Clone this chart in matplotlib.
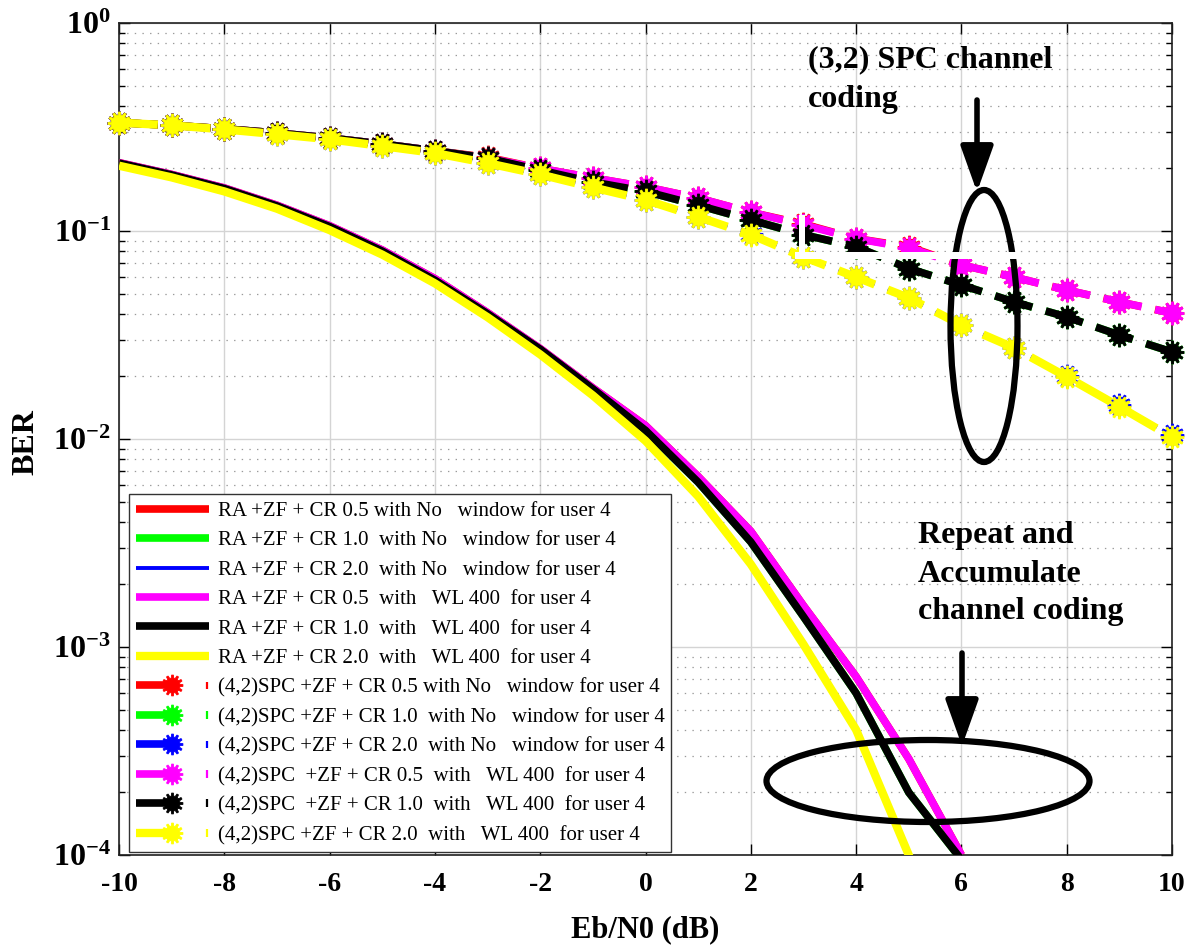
import numpy as np
import matplotlib
matplotlib.use("Agg")
import matplotlib.pyplot as plt
from matplotlib.path import Path
from matplotlib.lines import Line2D
from matplotlib.patches import Ellipse, FancyArrowPatch, Rectangle
from matplotlib.legend_handler import HandlerBase

plt.rcParams["font.family"] = "Liberation Serif"
plt.rcParams["mathtext.fontset"] = "custom"
plt.rcParams["mathtext.rm"] = "Liberation Serif:bold"
plt.rcParams["mathtext.it"] = "Liberation Serif:bold"
plt.rcParams["mathtext.bf"] = "Liberation Serif:bold"
plt.rcParams["axes.unicode_minus"] = False
plt.rcParams["lines.scale_dashes"] = False

# ---------------- data ----------------
# Repeat-Accumulate coded curves (solid)
ra_snr = [-10, -9, -8, -7, -6, -5, -4, -3, -2, -1, 0, 1, 2, 3, 4, 5, 6]
ra_cr05_nowin = [0.213, 0.187, 0.161, 0.133, 0.106, 0.081, 0.059, 0.0405, 0.0272, 0.0176, 0.0116,
                 0.0066, 0.0036, 0.00158, 0.00072, 0.00029, 0.000100]
ra_cr10_nowin = [0.212, 0.186, 0.160, 0.132, 0.105, 0.080, 0.058, 0.0400, 0.0270, 0.0174, 0.0110,
                 0.0062, 0.0032, 0.00140, 0.00060, 0.00020, 0.000095]
ra_cr20_nowin = [0.206, 0.181, 0.155, 0.128, 0.101, 0.077, 0.056, 0.0385, 0.0255, 0.0162, 0.0098,
                 0.0053, 0.0025, 0.00103, 0.00040, 0.00010, 0.000022]
ra_cr05_wl400 = [0.213, 0.187, 0.161, 0.133, 0.106, 0.081, 0.059, 0.0405, 0.0272, 0.0176, 0.0116,
                 0.0066, 0.0036, 0.00158, 0.00072, 0.00029, 0.000100]
ra_cr10_wl400 = [0.212, 0.186, 0.160, 0.132, 0.105, 0.080, 0.058, 0.0400, 0.0270, 0.0174, 0.0110,
                 0.0062, 0.0032, 0.00140, 0.00060, 0.00020, 0.000095]
ra_cr20_wl400 = [0.206, 0.181, 0.155, 0.128, 0.101, 0.077, 0.056, 0.0385, 0.0255, 0.0162, 0.0098,
                 0.0053, 0.0025, 0.00103, 0.00040, 0.00010, 0.000022]

# (4,2) SPC coded curves (dashed with markers)
spc_snr = [-10, -9, -8, -7, -6, -5, -4, -3, -2, -1, 0, 1, 2, 3, 4, 5, 6, 7, 8, 9, 10]
spc_cr05_nowin = [0.332, 0.322, 0.310, 0.296, 0.280, 0.262, 0.243, 0.226, 0.200, 0.180, 0.163,
                  0.144, 0.123, 0.108, 0.092, 0.084, 0.0687, 0.060, 0.052, 0.0456, 0.0403]
spc_cr10_nowin = [0.332, 0.322, 0.310, 0.296, 0.280, 0.262, 0.243, 0.224, 0.196, 0.172, 0.155,
                  0.133, 0.113, 0.096, 0.084, 0.066, 0.055, 0.0456, 0.0386, 0.0316, 0.0262]
spc_cr20_nowin = [0.332, 0.322, 0.308, 0.292, 0.276, 0.256, 0.237, 0.212, 0.187, 0.163, 0.141,
                  0.117, 0.097, 0.075, 0.060, 0.0477, 0.0353, 0.0274, 0.0201, 0.0145, 0.0104]
spc_cr05_wl400 = [0.332, 0.322, 0.310, 0.296, 0.280, 0.262, 0.243, 0.224, 0.200, 0.180, 0.163,
                  0.144, 0.123, 0.107, 0.092, 0.083, 0.0687, 0.060, 0.052, 0.0456, 0.0403]
spc_cr10_wl400 = [0.332, 0.322, 0.310, 0.296, 0.280, 0.262, 0.243, 0.224, 0.196, 0.172, 0.155,
                  0.133, 0.113, 0.096, 0.084, 0.066, 0.055, 0.0456, 0.0386, 0.0316, 0.0262]
spc_cr20_wl400 = [0.332, 0.322, 0.308, 0.292, 0.276, 0.256, 0.237, 0.212, 0.187, 0.162, 0.141,
                  0.117, 0.096, 0.075, 0.060, 0.0477, 0.0353, 0.0274, 0.0199, 0.0143, 0.0102]

ra_labels = [
    "RA +ZF + CR 0.5 with No   window for user 4",
    "RA +ZF + CR 1.0  with No   window for user 4",
    "RA +ZF + CR 2.0  with No   window for user 4",
    "RA +ZF + CR 0.5  with   WL 400  for user 4",
    "RA +ZF + CR 1.0  with   WL 400  for user 4",
    "RA +ZF + CR 2.0  with   WL 400  for user 4",
]
spc_labels = [
    "(4,2)SPC +ZF + CR 0.5 with No   window for user 4",
    "(4,2)SPC +ZF + CR 1.0  with No   window for user 4",
    "(4,2)SPC +ZF + CR 2.0  with No   window for user 4",
    "(4,2)SPC  +ZF + CR 0.5  with   WL 400  for user 4",
    "(4,2)SPC  +ZF + CR 1.0  with   WL 400  for user 4",
    "(4,2)SPC +ZF + CR 2.0  with   WL 400  for user 4",
]
series_colors = ["#ff0000", "#00ff00", "#0000ff", "#ff00ff", "#000000", "#ffff00"]
x_ticks = [-10, -8, -6, -4, -2, 0, 2, 4, 6, 8, 10]
y_ticks = [1e-4, 1e-3, 1e-2, 1e-1, 1e0]
y_tick_labels = [r"$10^{-4}$", r"$10^{-3}$", r"$10^{-2}$", r"$10^{-1}$", r"$10^{0}$"]


# ---------------- gear-shaped marker ----------------
def gear_marker(teeth=12, r_out=1.0, r_in=0.72):
    step = 2 * np.pi / teeth
    verts = []
    for i in range(teeth):
        a = i * step
        for frac, r in ((-0.30, r_in), (-0.16, r_out), (0.16, r_out), (0.30, r_in)):
            ang = a + frac * step
            verts.append((r * np.cos(ang), r * np.sin(ang)))
    verts.append(verts[0])
    codes = [Path.MOVETO] + [Path.LINETO] * (len(verts) - 2) + [Path.CLOSEPOLY]
    return Path(verts, codes)


GEAR = gear_marker()

# ---------------- figure ----------------
W, H = 1195, 949
fig = plt.figure(figsize=(W / 100, H / 100), dpi=100)
ax = fig.add_axes([119 / W, 1 - 855 / H, 1053 / W, 832 / H])

ra_series = [ra_cr05_nowin, ra_cr10_nowin, ra_cr20_nowin,
             ra_cr05_wl400, ra_cr10_wl400, ra_cr20_wl400]
ra_widths = [5.5, 5.5, 2.8, 5.5, 5.5, 6.0]
ra_lines = []
for vals, c, lw, lab in zip(ra_series, series_colors, ra_widths, ra_labels):
    ln, = ax.semilogy(ra_snr, vals, color=c, lw=lw, label=lab,
                      solid_capstyle="butt", solid_joinstyle="round", zorder=3)
    ra_lines.append(ln)

spc_series = [spc_cr05_nowin, spc_cr10_nowin, spc_cr20_nowin,
              spc_cr05_wl400, spc_cr10_wl400, spc_cr20_wl400]
spc_widths = [5.5, 5.5, 2.8, 5.5, 5.5, 6.0]
spc_lines = []
for vals, c, lw, lab in zip(spc_series, series_colors, spc_widths, spc_labels):
    ln, = ax.semilogy(spc_snr, vals, color=c, lw=lw, label=lab,
                      linestyle=(0, (28, 10)), dash_capstyle="butt",
                      marker=GEAR, markersize=16.5, markerfacecolor=c,
                      markeredgecolor=c, markeredgewidth=0.6, zorder=4,
                      clip_on=False)
    spc_lines.append(ln)

ax.set_xlim(-10, 10)
ax.set_ylim(1e-4, 1)
ax.set_xticks(x_ticks)
ax.set_xticklabels([str(t) for t in x_ticks])
ax.set_yticks(y_ticks)
ax.set_yticklabels(y_tick_labels)
ax.yaxis.set_minor_locator(matplotlib.ticker.LogLocator(base=10, subs=np.arange(2, 10)))
ax.yaxis.set_minor_formatter(matplotlib.ticker.NullFormatter())

for lab in ax.get_xticklabels():
    lab.set_fontweight("bold")
    lab.set_fontsize(20)
for lab in ax.get_yticklabels():
    lab.set_fontsize(23)

ax.tick_params(which="both", direction="in", top=True, right=True, width=1.0)
ax.tick_params(which="major", length=8)
ax.tick_params(which="minor", length=4)
ax.tick_params(axis="x", pad=12)
ax.tick_params(axis="y", pad=6)

ax.grid(True, which="major", color="#d4d4d4", lw=1.0, ls="-")
ax.grid(True, which="minor", axis="y", color="#9a9a9a", lw=0.9, ls=(0, (1, 4.5)))
ax.set_axisbelow(True)
for sp in ax.spines.values():
    sp.set_linewidth(1.2)
    sp.set_color("#202020")

ax.set_xlabel("Eb/N0 (dB)", fontsize=22, fontweight="bold")
ax.set_ylabel("BER", fontsize=23, fontweight="bold")
ax.xaxis.set_label_coords((645 - 119) / 1053, (855 - 930) / 832)
ax.xaxis.label.set_verticalalignment("center")
ax.yaxis.set_label_coords((26 - 119) / 1053, (855 - 442) / 832)
ax.yaxis.label.set_verticalalignment("center")


# ---------------- legend ----------------
class SpcHandler(HandlerBase):
    def create_artists(self, legend, orig, xdescent, ydescent, width, height,
                       fontsize, trans):
        y = (height - ydescent) / 2.0
        x0 = -xdescent
        c = orig.get_color()
        seg = Line2D([x0, x0 + 0.47 * width], [y, y], color=c,
                     lw=orig.get_linewidth() if orig.get_linewidth() > 3 else 5.5,
                     solid_capstyle="butt")
        mk = Line2D([x0 + 0.49 * width], [y], linestyle="none", marker=GEAR,
                    markersize=15, markerfacecolor=c, markeredgecolor=c,
                    markeredgewidth=0.6)
        tick = Line2D([x0 + 0.975 * width] * 2, [y - 2.8, y + 2.8], color=c,
                      lw=1.6, solid_capstyle="butt")
        for a in (seg, mk, tick):
            a.set_transform(trans)
        return [seg, mk, tick]


handler_map = {ln: SpcHandler() for ln in spc_lines}
leg = ax.legend(ra_lines + spc_lines, ra_labels + spc_labels,
                loc="lower left", bbox_to_anchor=(10 / 1053, 3 / 832),
                borderaxespad=0, fontsize=15, handlelength=3.5,
                handletextpad=0.42, labelspacing=0.475, borderpad=0.33,
                fancybox=False, framealpha=1, edgecolor="#333333",
                handler_map=handler_map)
leg.get_frame().set_linewidth(1.0)
leg.set_zorder(6)


# ---------------- annotations ----------------
def fx(px):
    return px / W


def fy(py):
    return 1 - py / H


tf = fig.transFigure
txt_kw = dict(fontsize=23, fontweight="bold", ha="left", va="center",
              transform=tf, zorder=8)
fig.text(fx(808), fy(60), "(3,2) SPC channel", **txt_kw)
fig.text(fx(808), fy(100), "coding", **txt_kw)
fig.text(fx(918), fy(535), "Repeat and", **txt_kw)
fig.text(fx(918), fy(575), "Accumulate", **txt_kw)
fig.text(fx(918), fy(612), "channel coding", **txt_kw)

ell1 = Ellipse((fx(984), fy(326)), 67 / W, 272 / H, transform=tf,
               fill=False, ec="black", lw=4.5, zorder=7)
ell2 = Ellipse((fx(928), fy(781)), 323 / W, 82 / H, transform=tf,
               fill=False, ec="black", lw=4.5, zorder=7)
fig.add_artist(ell1)
fig.add_artist(ell2)

# thin white strips left over from the annotation box
fig.add_artist(Rectangle((fx(799), fy(258)), 6 / W, 43 / H, transform=tf,
                         fc="white", ec="none", zorder=7.5))
fig.add_artist(Rectangle((fx(795), fy(259)), 225 / W, 7 / H, transform=tf,
                         fc="white", ec="none", zorder=7.5))

for x0, y0, y1 in ((977, 100, 192), (962, 653, 746)):
    arr = FancyArrowPatch((fx(x0), fy(y0)), (fx(x0), fy(y1)), transform=tf,
                          arrowstyle="-|>,head_length=1.4,head_width=0.5",
                          mutation_scale=20, lw=4, color="black",
                          shrinkA=0, shrinkB=0, zorder=8)
    fig.add_artist(arr)

fig.savefig("out.png", dpi=100)
